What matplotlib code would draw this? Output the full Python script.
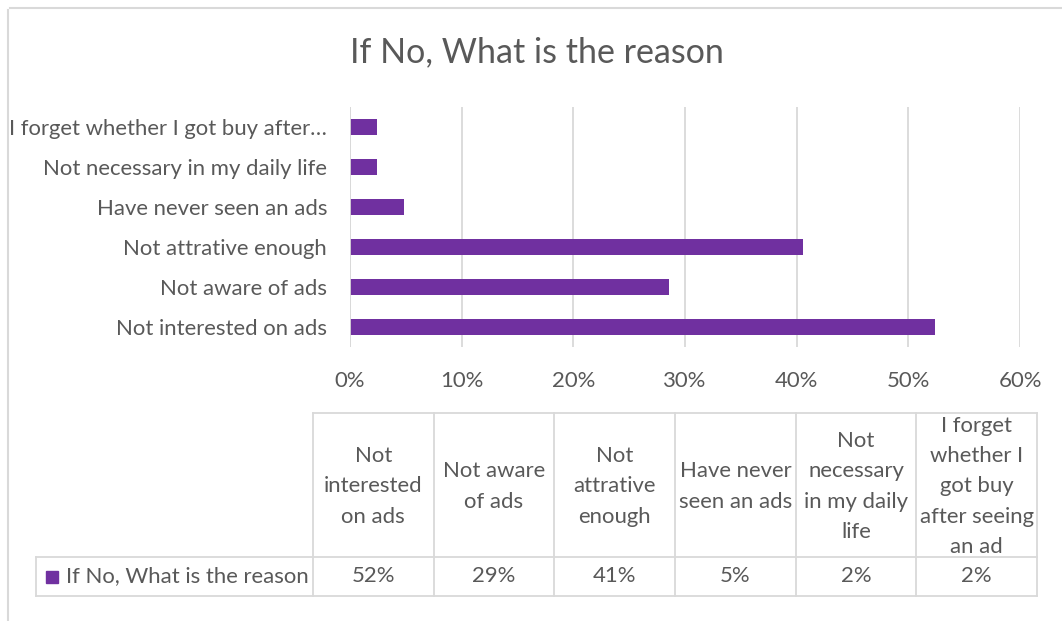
import matplotlib.pyplot as plt
from matplotlib.lines import Line2D
from matplotlib.patches import Rectangle
from matplotlib.ticker import PercentFormatter

FONT = ["Lato", "DejaVu Sans"]
TEXT_COLOR = "#595959"
GRID_COLOR = "#d9d9d9"
BAR_COLOR = "#7030a0"
LABEL_SIZE = 15.9

TITLE = "If No, What is the reason"
SERIES_NAME = "If No, What is the reason"

# bottom-to-top order, as the category axis draws them
CATEGORIES = [
    "Not interested on ads",
    "Not aware of ads",
    "Not attrative enough",
    "Have never seen an ads",
    "Not necessary in my daily life",
    "I forget whether I got buy after seeing an ad",
]
SHARES = [0.524, 0.286, 0.406, 0.048, 0.024, 0.024]

# wrapped headers for the data table underneath
TABLE_HEADERS = [
    "Not\ninterested\non ads",
    "Not aware\nof ads",
    "Not\nattrative\nenough",
    "Have never\nseen an ads",
    "Not\nnecessary\nin my daily\nlife",
    "I forget\nwhether I\ngot buy\nafter seeing\nan ad",
]
X_TICKS = [0.0, 0.1, 0.2, 0.3, 0.4, 0.5, 0.6]

plt.rcParams["font.family"] = FONT

W, H = 1062, 621
fig = plt.figure(figsize=(W / 100, H / 100), dpi=100)


def fx(px):
    return px / W


def fy(py):
    return 1 - py / H


# bar chart
ax = fig.add_axes([fx(350), fy(347), fx(1020) - fx(350), fy(107) - fy(347)])
ypos = list(range(len(CATEGORIES)))
ax.barh(ypos, SHARES, height=0.38, color=BAR_COLOR, zorder=3)
ax.set_xlim(0, 0.6)
ax.set_ylim(-0.5, len(CATEGORIES) - 0.5)
ax.set_xticks(X_TICKS)
ax.xaxis.set_major_formatter(PercentFormatter(1.0, decimals=0))
ax.set_yticks(ypos)
ax.set_yticklabels([c if len(c) <= 33 else c[:32].rstrip() + "\u2026" for c in CATEGORIES])
ax.tick_params(axis="both", length=0, labelsize=LABEL_SIZE, colors=TEXT_COLOR)
ax.tick_params(axis="x", pad=17)
ax.tick_params(axis="y", pad=16.5)
ax.grid(axis="x", color=GRID_COLOR, linewidth=1.3, zorder=0)
for side in ("top", "right", "bottom", "left"):
    ax.spines[side].set_visible(False)
ax.axvline(0, color=GRID_COLOR, linewidth=1.3, zorder=4)

fig.text(fx(537), fy(52), TITLE, ha="center", va="center",
         fontsize=24.5, color=TEXT_COLOR)

# data table drawn in pixel coordinates
tax = fig.add_axes([0, 0, 1, 1])
tax.set_xlim(0, W)
tax.set_ylim(H, 0)
tax.axis("off")

col_left = 313
col_w = (1037 - col_left) / len(CATEGORIES)
head_top, head_bot, row_bot = 413, 557, 596
legend_left = 36


def line(x0, y0, x1, y1, lw=1.3):
    tax.add_line(Line2D([x0, x1], [y0, y1], color=GRID_COLOR, linewidth=lw))


line(col_left, head_top, col_left + col_w * len(CATEGORIES), head_top)
line(legend_left, head_bot, col_left + col_w * len(CATEGORIES), head_bot)
line(legend_left, row_bot, col_left + col_w * len(CATEGORIES), row_bot)
line(legend_left, head_bot, legend_left, row_bot)
for i in range(len(CATEGORIES) + 1):
    x = col_left + i * col_w
    line(x, head_top, x, row_bot)

for i, (head, share) in enumerate(zip(TABLE_HEADERS, SHARES)):
    cx = col_left + (i + 0.5) * col_w
    tax.text(cx, (head_top + head_bot) / 2 + 1.5, head, ha="center", va="center",
             fontsize=LABEL_SIZE, color=TEXT_COLOR, linespacing=1.64)
    tax.text(cx, (head_bot + row_bot) / 2, f"{share:.0%}", ha="center",
             va="center", fontsize=LABEL_SIZE, color=TEXT_COLOR)

tax.add_patch(Rectangle((46, 571), 12, 12, color=BAR_COLOR))
tax.text(66, (head_bot + row_bot) / 2, SERIES_NAME, ha="left", va="center",
         fontsize=LABEL_SIZE, color=TEXT_COLOR)

# chart frame
line(8, 10, 8, H, lw=1.5)
line(10, 8, W, 8, lw=1.5)

fig.savefig("out.png", dpi=100, facecolor="white")
